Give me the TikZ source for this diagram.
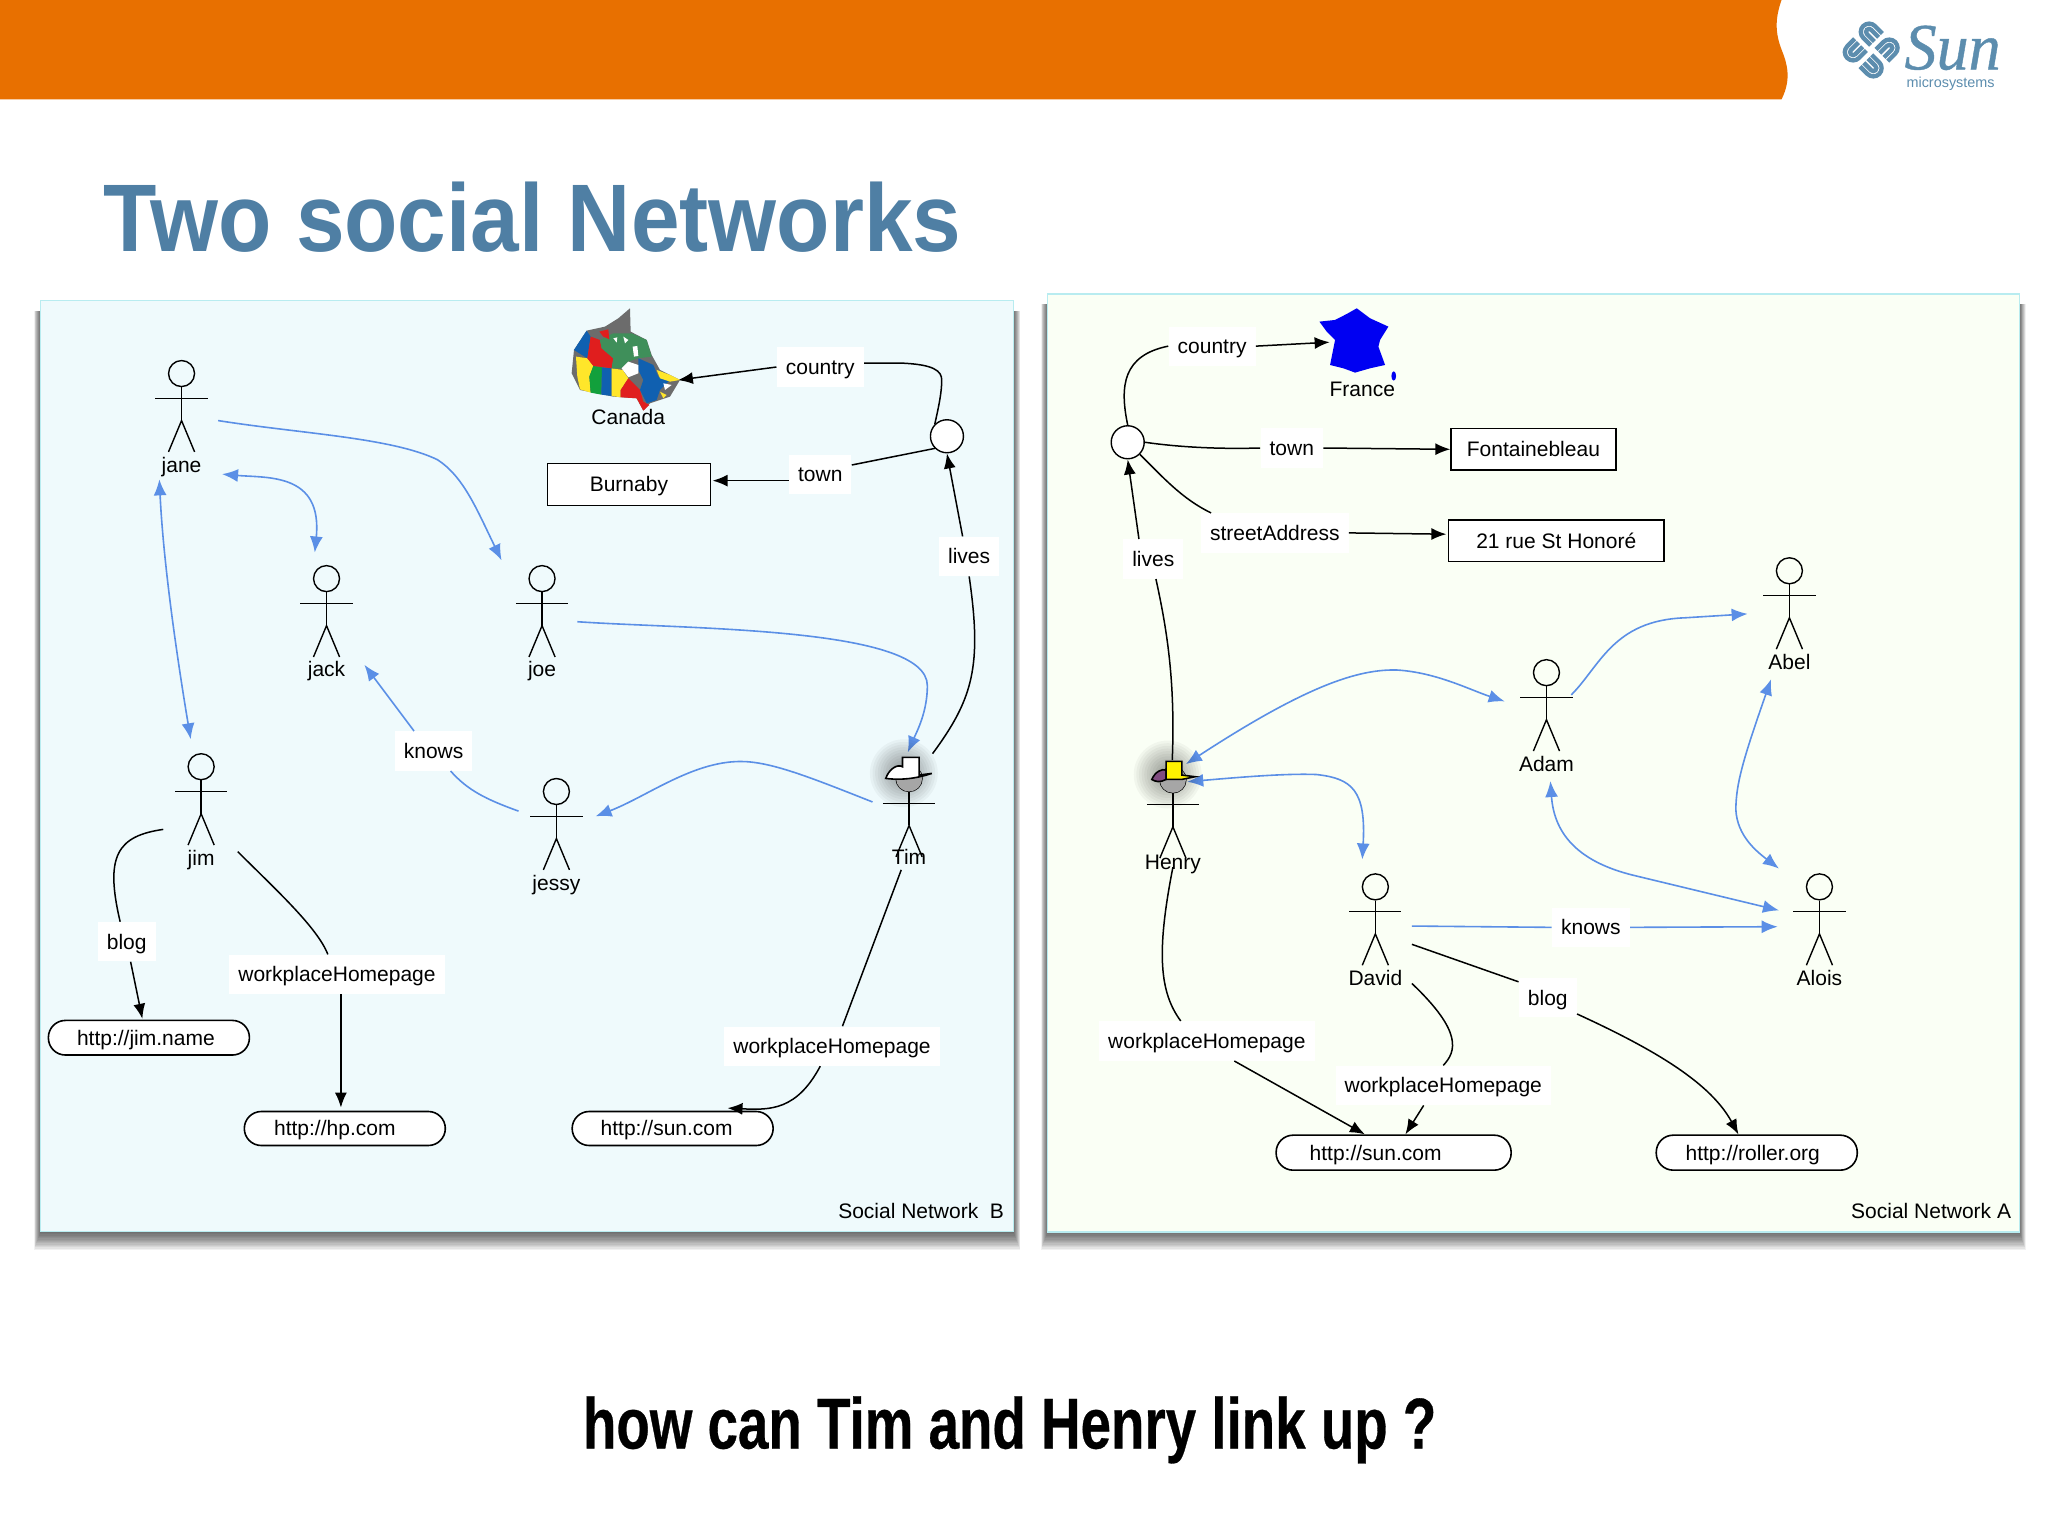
\documentclass[tikz,border=0pt]{standalone}
\usepackage{fontspec}
\setmainfont{Liberation Sans}
\newfontfamily\titlefont[FakeStretch=0.91]{Liberation Sans Bold}
\newfontfamily\askfont[FakeStretch=0.76,FakeBold=0.4]{Liberation Sans Bold}
\newfontfamily\sunfont[FakeBold=0.6,FakeStretch=0.97]{Liberation Serif Italic}
\usetikzlibrary{arrows.meta,calc,shapes.geometric}
\definecolor{band}{HTML}{E87000}
\definecolor{titleblue}{HTML}{4F7FA4}
\definecolor{logoblue}{HTML}{5C8DAE}
\definecolor{arrowblue}{HTML}{5B8FE6}
\definecolor{paneL}{HTML}{EFFAFC}
\definecolor{paneR}{HTML}{FAFFF5}
\definecolor{paneB}{HTML}{B8ECF0}
\definecolor{mapgrey}{HTML}{6C6C6C}
\definecolor{mapgreen}{HTML}{3F8F5A}
\definecolor{mapgreenb}{HTML}{12A03C}
\definecolor{mapred}{HTML}{E01E1E}
\definecolor{mapblue}{HTML}{1060B0}
\definecolor{mapyellow}{HTML}{FFE62A}
\tikzset{
 lnk/.style={line width=0.75pt,black,-{Latex[length=7.5pt,width=6pt]}},
 lnkp/.style={line width=0.75pt,black},
 bl/.style={line width=0.8pt,arrowblue,-{Latex[length=8pt,width=6.5pt]}},
 blb/.style={line width=0.8pt,arrowblue,{Latex[length=8pt,width=6.5pt]}-{Latex[length=8pt,width=6.5pt]}},
 blp/.style={line width=0.8pt,arrowblue},
 txt/.style={font=\fontsize{10.5}{12}\selectfont,text height=9pt,text depth=1.6pt},
 lab/.style={txt,fill=white,inner xsep=4.5pt,inner ysep=4.5pt},
 plabel/.style={txt,inner sep=0pt},
 headc/.style={circle,draw=black,line width=0.7pt,fill=none,minimum size=13pt,inner sep=0pt},
 fig/.style={line width=0.7pt,black},
 litbox/.style={txt,draw=black,line width=0.8pt,fill=white,inner sep=0pt},
 urlbox/.style={txt,draw=black,line width=0.8pt,fill=white,rounded corners=8.5pt,inner sep=0pt},
 bnode/.style={circle,draw=black,line width=0.7pt,fill=white,inner sep=0pt,minimum size=16.5pt},
 logo/.style={line width=2.15pt,logoblue},
 panelshadow/.style={fill=black,opacity=0.055,draw=none},
}
\newcommand{\person}[5][70]{%
 \node[headc] (#2) at (#3,#4) {};
 \draw[fig] ($(#2)+(-20,19)$) -- ($(#2)+(20,19)$);
 \draw[fig] (#2.south) -- ($(#2)+(0,36)$);
 \draw[fig] ($(#2)+(-10,60)$) -- ($(#2)+(0,36)$) -- ($(#2)+(10,60)$);
 \node[plabel] (#2-l) at ($(#2)+(0,#1)$) {#5};
}
\begin{document}
\begin{tikzpicture}[x=0.653061pt,y=-0.653061pt]
\useasboundingbox (0,0) rectangle (1568,1176);
\fill[white] (0,0) rectangle (1568,1176);
% band
\fill[band] (0,0) -- (1364,0) .. controls (1359,14) and (1359,25) .. (1364,38) .. controls (1368,48) and (1372,60) .. (1364,76) -- (0,76) -- cycle;
% logo
\begin{scope}[shift={(1301.7,0)},scale=0.2552]
 \begin{scope}[shift={(513,150)},rotate=45,scale=1.13]
  \foreach \r in {0,90,180,270}{
   \begin{scope}[rotate=\r]
    \draw[logo] (10,8) -- (38,8) arc[start angle=-90,end angle=90,radius=22] -- (10,52);
    \draw[logo] (10,22) -- (38,22) arc[start angle=-90,end angle=90,radius=8] -- (10,38);
   \end{scope}
  }
 \end{scope}
 \node[anchor=base west,inner sep=0pt,text=logoblue,font=\sunfont\fontsize{33}{33}\selectfont] (sun) at (612,208) {Sun};
 \node[anchor=base west,inner sep=0pt,text=logoblue,font=\fontsize{7.2}{8}\selectfont] (micro) at (618,262) {microsystems};
\end{scope}
% title
\node[anchor=base west,inner sep=0pt,text=titleblue,font=\titlefont\fontsize{48}{50}\selectfont] (title) at (79,192.5) {Two social Networks};
% question
\node[anchor=base,inner sep=0pt,font=\askfont\fontsize{36}{40}\selectfont] (ask) at (773,1109) {how can Tim and Henry link up ?};
% shadows
\foreach \d in {1,2,...,14}{
 \fill[panelshadow] (31-\d*0.35,238) rectangle (776+\d*0.35,943+\d);
 \fill[panelshadow] (802-\d*0.35,233) rectangle (1546+\d*0.35,943+\d);
}
% panels
\node[draw=paneB,line width=0.8pt,fill=paneL,minimum width=486.5pt,minimum height=465.6pt,inner sep=0pt] (panelB) at (403.5,586.5) {};
\node[draw=paneB,line width=0.8pt,fill=paneR,minimum width=486pt,minimum height=469pt,inner sep=0pt] (panelA) at (1174,584) {};
\node[anchor=base east,inner sep=0pt,font=\fontsize{10.5}{12}\selectfont] (capB) at (769,933) {Social Network\ \ B};
\node[anchor=base east,inner sep=0pt,font=\fontsize{10.5}{12}\selectfont] (capA) at (1540,933) {Social Network A};

% ---- left network: fixed items
\node[litbox,minimum width=81.6pt,minimum height=20.9pt] (burnaby) at (481.5,371) {Burnaby};
\node[urlbox,minimum width=100.5pt,minimum height=17.3pt] (jimname) at (114,794.5) {\hspace*{-3pt}http://jim.name};
\node[urlbox,minimum width=100.5pt,minimum height=17pt] (hpcom) at (264,864) {\hspace*{-10pt}http://hp.com};
\node[urlbox,minimum width=100.5pt,minimum height=17pt] (sunL) at (515,864) {\hspace*{-6pt}http://sun.com};
\node[bnode] (bnL) at (725,334) {};
\coordinate (canada) at (519,291);
% labels
\node[lab] (countryL) at (628,281) {country};
\node[lab] (townL) at (628,363) {town};
\node[lab] (livesL) at (742,426) {lives};
\node[lab] (knowsL) at (332,575) {knows};
\node[lab] (blogL) at (97,721) {blog};
\node[lab] (wpJ) at (258,746) {workplaceHomepage};
\node[lab] (wpT) at (637,801) {workplaceHomepage};
% free ends
\coordinate (janeA) at (167,322); \coordinate (joeA) at (384,429);
\coordinate (janeB) at (170,363); \coordinate (jackB) at (241,423);
\coordinate (janeC) at (122,367); \coordinate (jimC) at (146,566);
\coordinate (joeD) at (442,476); \coordinate (timD) at (695,576);
\coordinate (timE) at (668,614); \coordinate (jessyE) at (456,625);
\coordinate (jessyF) at (397,621); \coordinate (jackF) at (279,509);
\coordinate (timG) at (714,577); \coordinate (timH) at (690,666);
\coordinate (jimI) at (125,635); \coordinate (jimJ) at (182,652);
\coordinate (blogEnd) at (109,780); \coordinate (hpEnd) at (261,848);
% blue edges
\draw[bl] (janeA) .. controls (230,332) and (300,335) .. (335,352) .. controls (355,365) and (365,390) .. (joeA);
\draw[blb] (janeB) .. controls (205,366) and (247,362) .. (jackB);
\draw[blb] (janeC) .. controls (125,430) and (135,500) .. (jimC);
\draw[bl] (joeD) .. controls (530,482) and (710,480) .. (710,525) .. controls (710,545) and (702,560) .. (timD);
\draw[bl] (timE) .. controls (620,595) and (590,583) .. (567,583) .. controls (530,583) and (495,610) .. (jessyE);
\draw[blp] (jessyF) .. controls (372,612) and (358,605) .. ($(knowsL.south)+(13,0)$);
\draw[bl] ($(knowsL.north)+(-15,0)$) -- (jackF);
% black edges
\draw[lnkp] (timG) .. controls (745,535) and (752,510) .. (livesL.south);
\draw[lnk] ($(livesL.north)+(-5,0)$) -- (bnL.south);
\draw[lnkp] (bnL.north west) .. controls (719,310) and (721,300) .. (721,291) .. controls (721,284) and (715,279) .. (690,278) -- ($(countryL.east)+(0,-3)$);
\draw[lnk] (countryL.west) -- (canada);
\draw[lnkp] (bnL.south west) -- ($(townL.east)+(0,-7)$);
\draw[lnk] ($(townL.west)+(0,5)$) -- ($(burnaby.east)+(1,-3)$);
\draw[lnkp] (jimI) .. controls (90,640) and (80,655) .. ($(blogL.north)+(-5,0)$);
\draw[lnk] ($(blogL.south)+(3,0)$) -- (blogEnd);
\draw[lnkp] (jimJ) .. controls (210,680) and (243,710) .. ($(wpJ.north)+(-7,0)$);
\draw[lnk] ($(wpJ.south)+(3,0)$) -- (hpEnd);
\draw[lnkp] (timH) -- ($(wpT.north)+(8,0)$);
\draw[lnk] ($(wpT.south)+(-9,0)$) .. controls (610,850) and (590,850) .. ($(sunL.north)+(42,-2)$);
% persons left
\person{jane}{139}{286}{jane}
\person[69]{jack}{250}{443}{jack}
\person[69]{joe}{415}{443}{joe}
\person{jim}{154}{587}{jim}
\person{jessy}{426}{606}{jessy}
\person[60]{tim}{696}{596}{Tim}
% Canada
\begin{scope}[shift={(382.8,222)},scale=0.2552]
 \fill[mapgrey] (390,55) -- (392,125) -- (440,150) -- (455,195) -- (480,240) -- (540,270) -- (510,320) -- (450,340) -- (430,362) -- (410,325) -- (340,320) -- (240,300) -- (215,250) -- (222,180) -- (260,122) -- (315,110) -- (355,85) -- cycle;
 \fill[mapblue] (260,122) -- (272,140) -- (262,205) -- (222,180) -- cycle;
 \fill[mapyellow] (228,200) -- (262,205) -- (280,228) -- (268,260) -- (272,308) -- (240,298) -- (232,260) -- cycle;
 \fill[mapgreenb] (280,228) -- (306,232) -- (304,314) -- (272,308) -- (268,260) -- cycle;
 \fill[mapblue] (306,232) -- (335,235) -- (335,318) -- (304,314) -- cycle;
 \fill[mapyellow] (335,235) -- (368,240) -- (385,265) -- (362,300) -- (362,322) -- (335,318) -- cycle;
 \fill[mapred] (272,140) -- (300,150) -- (305,175) -- (340,205) -- (335,235) -- (280,228) -- (262,205) -- cycle;
 \fill[mapgreen] (300,150) -- (340,130) -- (395,130) -- (440,150) -- (455,200) -- (415,205) -- (385,215) -- (365,235) -- (335,235) -- (340,205) -- (305,175) -- cycle;
 \fill[mapred] (298,125) -- (325,118) -- (328,148) -- (310,140) -- cycle;
 \fill[mapred] (385,265) -- (420,300) -- (430,335) -- (448,345) -- (430,362) -- (410,325) -- (362,322) -- (362,300) -- cycle;
 \fill[mapblue] (415,205) -- (460,225) -- (475,260) -- (510,270) -- (480,300) -- (470,330) -- (440,340) -- (420,300) -- (430,270) -- (415,240) -- cycle;
 \fill[mapyellow] (470,240) -- (510,255) -- (540,270) -- (510,275) -- (480,265) -- cycle;
 \fill[mapyellow] (480,305) -- (500,315) -- (490,325) -- cycle;
 \fill[white] (365,235) -- (385,215) -- (415,225) -- (415,250) -- (385,262) -- cycle;
 \fill[white] (398,170) -- (412,168) -- (415,198) -- (402,200) -- cycle;
 \fill[white] (340,145) -- (352,142) -- (350,158) -- cycle;
 \fill[white] (370,140) -- (385,150) -- (375,160) -- cycle;
 \fill[white] (490,280) -- (515,285) -- (495,300) -- cycle;
\end{scope}
\node[plabel] (canadaL) at (481,319) {Canada};
% Tim hat
\foreach \r in {6,8,...,26}{\fill[black,opacity=0.035] (692,592) circle (\r);}
\fill[gray!70] (696,596) circle (10);
\begin{scope}[shift={(627.9,551.3)},scale=0.2552]
 \draw[black,line width=0.8pt,fill=white] (197,175) .. controls (205,150) and (230,130) .. (247,140) -- (247,112) -- (297,112) -- (297,165) -- (335,160) .. controls (300,172) and (250,182) .. (197,175) -- cycle;
\end{scope}

% ---- right network
\node[litbox,minimum width=82.3pt,minimum height=20.9pt] (fontb) at (1174,344) {Fontainebleau};
\node[litbox,minimum width=107.8pt,minimum height=20.9pt] (rue) at (1191.5,414) {21 rue St Honoré};
\node[urlbox,minimum width=117.5pt,minimum height=17.5pt] (sunR) at (1067,882.5) {\hspace*{-18pt}http://sun.com};
\node[urlbox,minimum width=100.5pt,minimum height=17.5pt] (roller) at (1345,882.5) {\hspace*{-4pt}http://roller.org};
\node[bnode] (bnR) at (863.4,338.6) {};
\coordinate (france) at (1018,262);
\node[lab] (countryR) at (928,265) {country};
\node[lab] (townR) at (989,343) {town};
\node[lab] (streetR) at (976,408) {streetAddress};
\node[lab] (livesR) at (883,428) {lives};
\node[lab] (knowsR) at (1218,710) {knows};
\node[lab] (blogR) at (1185,764) {blog};
\node[lab] (wpH) at (924,797) {workplaceHomepage};
\node[lab] (wpD) at (1105,831) {workplaceHomepage};
\coordinate (henA) at (908,585); \coordinate (adamA) at (1152,537);
\coordinate (adamB) at (1203,532); \coordinate (abelB) at (1338,470);
\coordinate (abelC) at (1356,520); \coordinate (aloisC) at (1362,665);
\coordinate (adamD) at (1187,598); \coordinate (aloisD) at (1362,697);
\coordinate (henE) at (909,598.5); \coordinate (davE) at (1043,658);
\coordinate (davF) at (1081,709); \coordinate (aloisF) at (1361,709.5);
\coordinate (davG) at (1081,723); \coordinate (davH) at (1081,753);
\coordinate (henI) at (897.5,582); \coordinate (henJ) at (898,664);
% blue
\draw[blb] (henA) .. controls (1000,525) and (1040,512) .. (1070,513) .. controls (1100,515) and (1125,528) .. (adamA);
\draw[bl] (adamB) .. controls (1225,510) and (1235,475) .. (1290,473) -- (abelB);
\draw[blb] (abelC) .. controls (1335,580) and (1329,600) .. (1329,620) .. controls (1330,640) and (1345,652) .. (aloisC);
\draw[blb] (adamD) .. controls (1190,640) and (1210,660) .. (1250,670) -- (aloisD);
\draw[blb] (henE) .. controls (950,595) and (985,592) .. (1008,593) .. controls (1035,596) and (1046,605) .. (davE);
\draw[blp] (davF) -- (knowsR.west);
\draw[bl] (knowsR.east) -- (aloisF);
% black
\draw[lnkp] (countryR.west) .. controls (860,272) and (857,295) .. (bnR.north);
\draw[lnk] (countryR.east) -- (france);
\draw[lnkp] (bnR.east) .. controls (900,342) and (930,344) .. (townR.west);
\draw[lnk] (townR.east) -- (fontb.west);
\draw[lnkp] (bnR.south east) .. controls (890,365) and (905,382) .. ($(streetR.north west)+(8,0)$);
\draw[lnk] (streetR.east) -- ($(rue.west)+(-1,-5)$);
\draw[lnkp] (henI) .. controls (900,520) and (893,480) .. ($(livesR.south)+(2,0)$);
\draw[lnk] ($(livesR.north)+(-11,0)$) -- (bnR.south);
\draw[lnkp] (davG) -- ($(blogR.north west)+(0,3)$);
\draw[lnk] ($(blogR.south east)+(0,-3)$) .. controls (1270,805) and (1310,830) .. ($(roller.north)+(-14,0)$);
\draw[lnkp] (davH) .. controls (1120,790) and (1115,805) .. (wpD.north);
\draw[lnk] ($(wpD.south)+(-15,0)$) -- ($(sunR.north)+(9,0)$);
\draw[lnkp] (henJ) .. controls (885,730) and (888,760) .. ($(wpH.north)+(-20,0)$);
\draw[lnk] ($(wpH.south)+(21,0)$) -- ($(sunR.north)+(-22,0)$);
% persons right
\person{abel}{1370}{437}{Abel}
\person{adam}{1184}{515}{Adam}
\person{alois}{1393}{679}{Alois}
\person{david}{1053}{679}{David}
\person[63]{henry}{898}{597}{Henry}
% France
\begin{scope}[shift={(796.3,222)},scale=0.2552]
 \fill[blue!95!black] (838,95) -- (885,90) -- (920,72) -- (950,55) -- (990,85) -- (1045,110) -- (1020,150) -- (1015,170) -- (1035,225) -- (990,235) -- (945,248) -- (910,235) -- (870,225) -- (885,150) -- (860,125) -- cycle;
 \fill[blue!95!black] (1061,258) ellipse (7 and 14);
\end{scope}
\node[plabel] (franceL) at (1043,298) {France};
% Henry hat
\foreach \r in {6,8,...,26}{\fill[black,opacity=0.035] (894,593) circle (\r);}
\fill[gray!70] (898,597) circle (10);
\begin{scope}[shift={(842.3,551.3)},scale=0.2552]
 \draw[black,line width=0.8pt,fill=violet!40!gray] (155,178) .. controls (165,155) and (185,145) .. (198,150) -- (198,178) .. controls (180,188) and (165,185) .. (155,178) -- cycle;
 \draw[black,line width=0.8pt,fill=yellow] (198,124) -- (245,124) -- (245,165) -- (285,170) -- (245,178) -- (198,178) -- cycle;
\end{scope}
\end{tikzpicture}
\end{document}
